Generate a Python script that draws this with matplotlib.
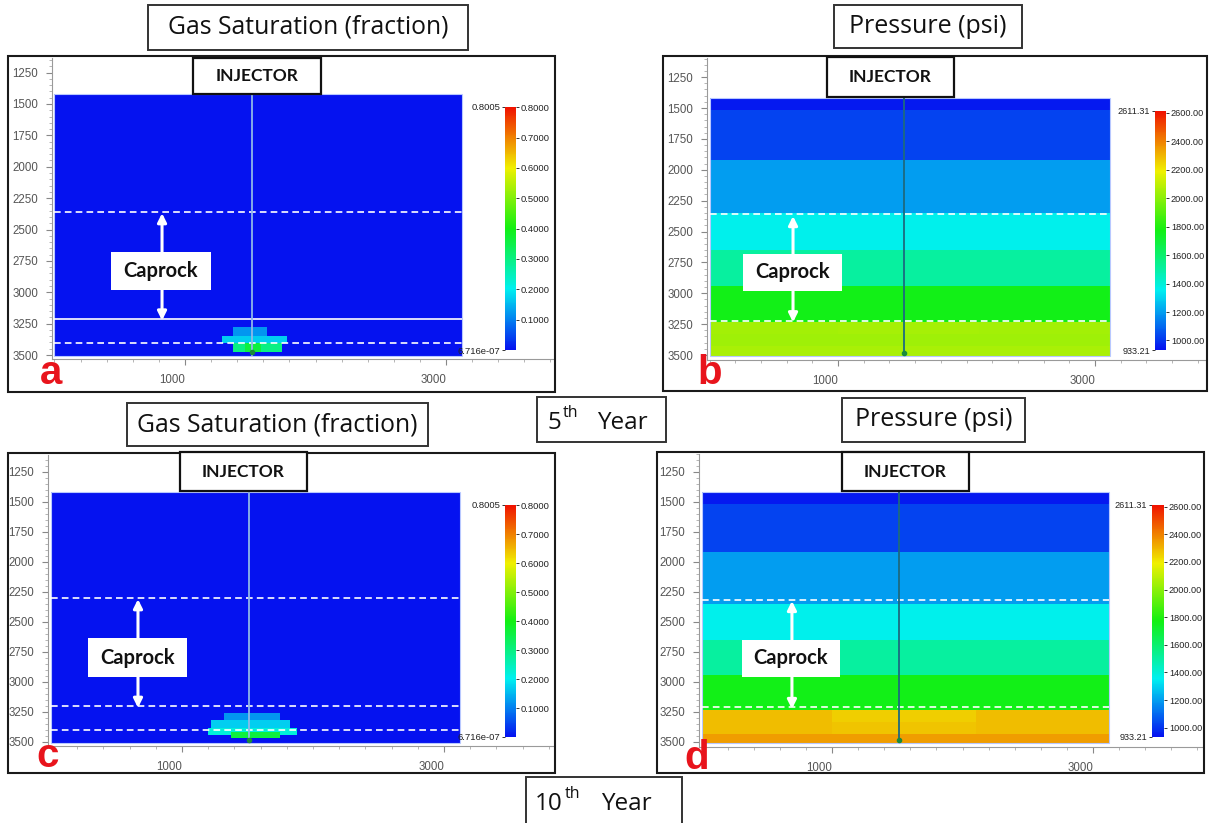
import numpy as np
import matplotlib
matplotlib.use("Agg")
import matplotlib.pyplot as plt
from matplotlib.colors import LinearSegmentedColormap, Normalize
from matplotlib.cm import ScalarMappable
from matplotlib.patches import Rectangle
from matplotlib.ticker import MultipleLocator, FixedLocator

W, H = 1210, 823

# ---------------- model data ----------------
x_domain = [0, 3120]            # ft
depth_domain = [1420, 3510]     # ft
injector_x = 1513
injector_perf = 3480

depth_ticks = [1250, 1500, 1750, 2000, 2250, 2500, 2750, 3000, 3250, 3500]
x_ticks = [1000, 3000]

# pressure model: layer boundaries (depth) and lateral column boundaries
p_depth_edges = [1420, 1515, 1920, 2350, 2650, 2940, 3230, 3330, 3430, 3510]
p_x_edges = [0, 1000, 2100, 3120]
# pressure (psi) per layer (rows) and column (cols)
pressure_5yr = [
    [950, 950, 950],
    [1030, 1030, 1030],
    [1197, 1197, 1197],
    [1365, 1365, 1365],
    [1504, 1504, 1504],
    [1765, 1765, 1765],
    [2045, 2050, 2045],
    [2035, 2040, 2035],
    [2055, 2060, 2055],
]
pressure_10yr = [
    [950, 950, 950],
    [1030, 1030, 1030],
    [1197, 1197, 1197],
    [1365, 1365, 1365],
    [1504, 1504, 1504],
    [1765, 1765, 1765],
    [2284, 2255, 2284],
    [2290, 2275, 2290],
    [2343, 2343, 2343],
]
p_min, p_max = 933.21, 2611.31
p_cbar_ticks = [1000, 1200, 1400, 1600, 1800, 2000, 2200, 2400, 2600]

# gas saturation plume blocks: (x_left, x_right, depth_top, depth_bottom, Sg)
sg_5yr = [
    (1370, 1630, 3280, 3345, 0.12),
    (1280, 1780, 3345, 3405, 0.17),
    (1370, 1740, 3405, 3475, 0.30),
    (1460, 1580, 3405, 3475, 0.36),
]
sg_10yr = [
    (1320, 1750, 3258, 3317, 0.12),
    (1220, 1825, 3317, 3383, 0.17),
    (1200, 1880, 3383, 3442, 0.22),
    (1375, 1750, 3420, 3470, 0.36),
]
sg_min, sg_max = 6.716e-07, 0.8005
sg_cbar_ticks = [0.1, 0.2, 0.3, 0.4, 0.5, 0.6, 0.7, 0.8]

# caprock interval markers per panel (depth, solid?)
caprock_lines = {
    "a": [(2360, False), (3213, True), (3404, False)],
    "b": [(2358, False), (3223, False)],
    "c": [(2300, False), (3200, False), (3400, False)],
    "d": [(2317, False), (3208, False)],
}
caprock_arrow = {"a": (824, 2370, 3225), "b": (650, 2375, 3235),
                 "c": (664, 2310, 3215), "d": (693, 2325, 3225)}

cmap = LinearSegmentedColormap.from_list(
    "rainbow_sim",
    [(0.0, "#0512f0"), (0.25, "#00f0f0"), (0.5, "#12f012"),
     (0.75, "#f0f000"), (1.0, "#f01200")])

# ---------------- layout helpers ----------------
fig = plt.figure(figsize=(W / 100, H / 100), dpi=100)
fig.patch.set_facecolor("white")


def fbox(x0, y0, x1, y1):
    return [x0 / W, 1 - y1 / H, (x1 - x0) / W, (y1 - y0) / H]


def rect_px(x0, y0, x1, y1, ec="black", lw=1.5, fc="white", z=5):
    r = Rectangle((x0 / W, 1 - y1 / H), (x1 - x0) / W, (y1 - y0) / H,
                  transform=fig.transFigure, facecolor=fc, edgecolor=ec,
                  linewidth=lw, zorder=z)
    fig.add_artist(r)


def text_px(x, y, s, size, weight="normal", color="#111111",
            family="Open Sans", ha="center", va="center", z=6):
    fig.text(x / W, 1 - y / H, s, fontsize=size, fontweight=weight,
             color=color, family=family, ha=ha, va=va, zorder=z)


def labeled_box(x0, y0, x1, y1, s, size, weight="normal", ec="#333333",
                lw=1.4, family="Open Sans"):
    rect_px(x0, y0, x1, y1, ec=ec, lw=lw)
    text_px((x0 + x1) / 2, (y0 + y1) / 2, s, size, weight, family=family)


tick_font = {"family": "Liberation Sans", "size": 8.3, "color": "#555555"}


def make_panel(key, frame, ax_px, xcal, ycal, cbar_px, kind, values,
               letter_xy, inj_box, cap_box):
    # outer frame
    rect_px(*frame, ec="#1a1a1a", lw=1.5, fc="none", z=4)
    left, top, right, bottom = ax_px
    sx = (xcal[1] - xcal[0]) / 2000.0
    sy = (ycal[1] - ycal[0]) / 2000.0
    xl = 1000 + (left - xcal[0]) / sx
    xr = 1000 + (right - xcal[0]) / sx
    dt = 1500 + (top - ycal[0]) / sy
    db = 1500 + (bottom - ycal[0]) / sy
    ax = fig.add_axes(fbox(left, top, right, bottom))
    ax.set_facecolor("none")
    ax.set_xlim(xl, xr)
    ax.set_ylim(db, dt)
    for s in ("top", "right"):
        ax.spines[s].set_visible(False)
    for s in ("left", "bottom"):
        ax.spines[s].set_color("#9a9a9a")
        ax.spines[s].set_linewidth(0.8)
    ax.yaxis.set_major_locator(FixedLocator(depth_ticks))
    ax.yaxis.set_minor_locator(MultipleLocator(50))
    ax.xaxis.set_major_locator(FixedLocator(x_ticks))
    ax.xaxis.set_minor_locator(MultipleLocator(200))
    ax.set_yticklabels([str(t) for t in depth_ticks], fontdict=tick_font)
    ax.set_xticklabels([str(t) for t in x_ticks], fontdict=tick_font)
    for lbl in ax.get_xticklabels():
        lbl.set_horizontalalignment("right")
    ax.tick_params(axis="both", which="major", length=4, width=0.8,
                   color="#888888")
    ax.tick_params(axis="y", which="major", pad=6)
    ax.tick_params(axis="x", which="major", pad=7)
    ax.tick_params(axis="both", which="minor", length=2, width=0.6,
                   color="#aaaaaa")

    if kind == "sg":
        norm = Normalize(sg_min, sg_max)
        ax.pcolormesh(x_domain, depth_domain, [[0.0]], cmap=cmap, norm=norm,
                      zorder=1)
        for x0, x1, d0, d1, v in values:
            ax.pcolormesh([x0, x1], [d0, d1], [[v]], cmap=cmap, norm=norm,
                          zorder=2)
        inj_color = "#8fb8e8"
        ticks, fmt = sg_cbar_ticks, "{:.4f}"
        end_labels = ["6.716e-07", "0.8005"]
        vmin, vmax = sg_min, sg_max
        cb_size = 6.8
    else:
        norm = Normalize(p_min, p_max)
        ax.pcolormesh(p_x_edges, p_depth_edges, np.array(values), cmap=cmap,
                      norm=norm, zorder=1)
        inj_color = "#1d6a80"
        ticks, fmt = p_cbar_ticks, "{:.2f}"
        end_labels = ["933.21", "2611.31"]
        vmin, vmax = p_min, p_max
        cb_size = 6.6

    # domain outline
    ax.add_patch(Rectangle((x_domain[0], depth_domain[0]),
                           x_domain[1] - x_domain[0],
                           depth_domain[1] - depth_domain[0],
                           fill=False, edgecolor="#b8c8ff", lw=0.8, zorder=3))
    # caprock markers
    for d, solid in caprock_lines[key]:
        ax.hlines(d, x_domain[0], x_domain[1], colors="white",
                  linestyles="solid" if solid else (0, (4, 2.5)),
                  lw=1.2, zorder=4)
    # injector well
    ax.vlines(injector_x, depth_domain[0], depth_domain[1], colors=inj_color,
              lw=1.3, zorder=5)
    ax.plot([injector_x], [injector_perf], marker="o", ms=3,
            color="#1a8a3a", zorder=6)
    # caprock thickness arrow
    xa, d0, d1 = caprock_arrow[key]
    ax.annotate("", xy=(xa, d0), xytext=(xa, d1),
                arrowprops=dict(arrowstyle="<|-|>", color="white", lw=2.2,
                                mutation_scale=13, shrinkA=0, shrinkB=0),
                zorder=6)

    # colour bar
    cax = fig.add_axes(fbox(*cbar_px))
    cb = fig.colorbar(ScalarMappable(norm=norm, cmap=cmap), cax=cax)
    cb.outline.set_visible(False)
    cb.set_ticks(ticks)
    cb.set_ticklabels([fmt.format(t) for t in ticks])
    cax.tick_params(length=2.5, width=0.7, color="#333333",
                    labelsize=cb_size, pad=1.0, labelcolor="#222222")
    for lbl in cax.get_yticklabels():
        lbl.set_family("Liberation Sans")
    sec = cax.secondary_yaxis("left")
    sec.set_yticks([vmin, vmax], labels=end_labels)
    sec.tick_params(length=2.5, width=0.7, color="#333333",
                    labelsize=cb_size, pad=1.0, labelcolor="#222222")
    for lbl in sec.get_yticklabels():
        lbl.set_family("Liberation Sans")
    sec.spines["left"].set_visible(False)

    # annotation boxes and panel letter
    labeled_box(*inj_box, "INJECTOR", 12.5, "bold", ec="#111111", lw=1.6,
                family="Lato")
    rect_px(*cap_box, ec="none", lw=0, fc="white", z=7)
    text_px((cap_box[0] + cap_box[2]) / 2, (cap_box[1] + cap_box[3]) / 2,
            "Caprock", 14.5, "bold", family="Lato", z=8)
    text_px(letter_xy[0], letter_xy[1], key, 29, "bold", color="#e8141c",
            family="Liberation Sans", va="baseline", z=8)


make_panel("a", (8, 56, 555, 392), (52, 58, 553, 359), (185, 446), (104, 355),
           (505, 107, 516, 350), "sg", sg_5yr, (51, 384),
           (193, 58, 321, 94), (111, 252, 211, 290))
make_panel("b", (663, 56, 1207, 391), (707, 58, 1205, 360), (838, 1095),
           (108, 355), (1155, 111, 1166, 350), "p", pressure_5yr, (710, 384),
           (827, 57, 954, 97), (743, 254, 842, 291))
make_panel("c", (8, 453, 555, 773), (48, 455, 553, 746), (182, 444),
           (502, 742), (505, 505, 516, 737), "sg", sg_10yr, (48, 767),
           (180, 452, 307, 491), (88, 638, 187, 677))
make_panel("d", (657, 452, 1204, 773), (699, 454, 1202, 747), (832, 1093),
           (502, 742), (1152, 505, 1164, 737), "p", pressure_10yr, (697, 769),
           (842, 452, 969, 491), (742, 640, 840, 677))

# titles
labeled_box(148, 5, 468, 50, "Gas Saturation (fraction)", 17.8)
labeled_box(834, 5, 1022, 48, "Pressure (psi)", 18)
labeled_box(127, 403, 428, 446, "Gas Saturation (fraction)", 17.8)
labeled_box(842, 398, 1025, 442, "Pressure (psi)", 18)

# time labels
rect_px(537, 397, 666, 442, ec="#333333", lw=1.4)
text_px(561, 429, "5", 17.5, ha="right", va="baseline")
text_px(563, 417, "th", 11.5, ha="left", va="baseline")
text_px(597, 429, "Year", 17.5, ha="left", va="baseline")

rect_px(526, 777, 682, 830, ec="#333333", lw=1.4)
text_px(563, 810, "10", 17.5, ha="right", va="baseline")
text_px(565, 798, "th", 11.5, ha="left", va="baseline")
text_px(601, 810, "Year", 17.5, ha="left", va="baseline")

fig.savefig("out.png", dpi=100)
